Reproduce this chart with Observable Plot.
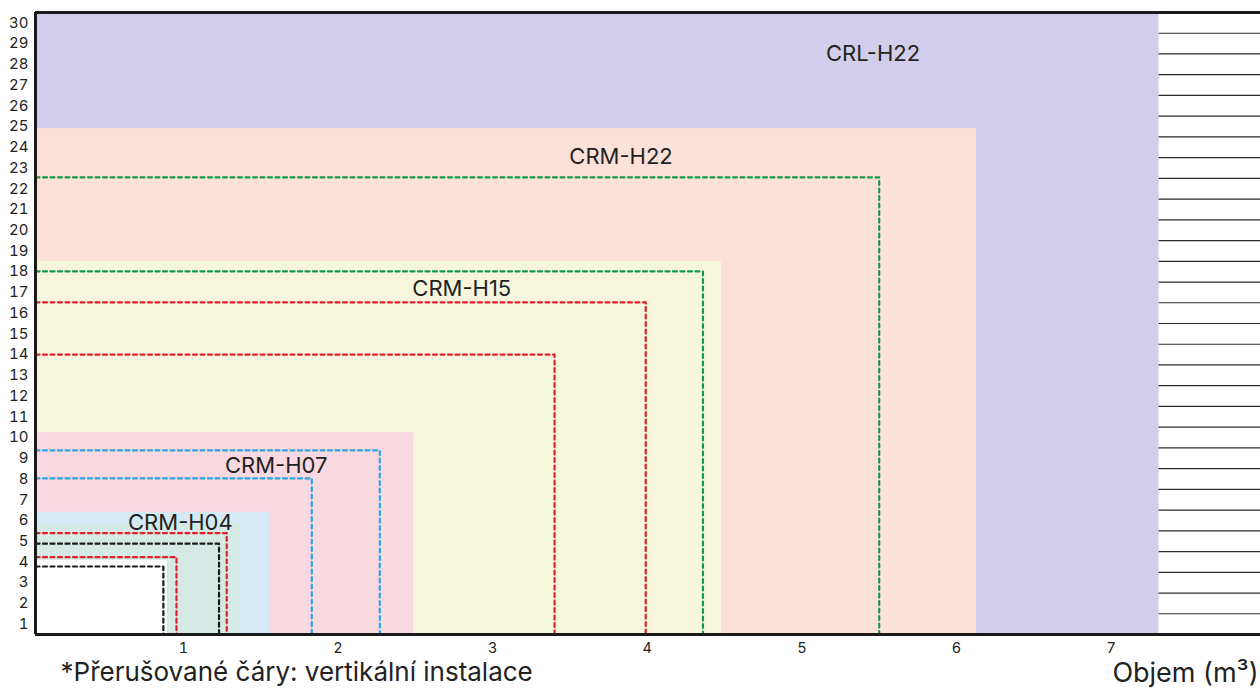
<!DOCTYPE html>
<html>
<head>
<meta charset="utf-8">
<script src="https://cdn.jsdelivr.net/npm/d3@7"></script>
<script src="https://cdn.jsdelivr.net/npm/@observablehq/plot@0.6"></script>
<style>
  html, body { margin: 0; padding: 0; background: #fff; }
  #chart svg { display: block; }
</style>
</head>
<body>
<div id="chart"></div>
<script>
// ---- data (volume m³ on x, pressure/tick index on y) ----
const areaModels = ["CRL-H22", "CRM-H22", "CRM-H15", "CRM-H07", "CRM-H04", "CRM-H04 min", "mimo rozsah"];
const areaMaxVolume = [7.31, 6.13, 4.48, 2.49, 1.56, 1.37, 0.895];
const areaMaxY = [30.5, 24.9, 18.5, 10.24, 6.39, 5.84, 4.07];

const dashSeries = ["zelená", "zelená", "červená", "červená", "modrá", "modrá", "červená", "černá", "červená", "černá"];
const dashVolume = [5.50, 4.36, 3.99, 3.40, 2.27, 1.83, 1.28, 1.23, 0.955, 0.87];
const dashY = [22.55, 18.01, 16.52, 14.0, 9.38, 8.03, 5.39, 4.88, 4.23, 3.78];

const labelNames = ["CRL-H22", "CRM-H22", "CRM-H15", "CRM-H07", "CRM-H04"];
const labelX = [5.46, 3.83, 2.80, 1.60, 0.98];
const labelY = [28.48, 23.51, 17.19, 8.65, 5.90];

const xTicks = [1, 2, 3, 4, 5, 6, 7];
const yTicks = [1, 2, 3, 4, 5, 6, 7, 8, 9, 10, 11, 12, 13, 14, 15, 16, 17, 18, 19, 20, 21, 22, 23, 24, 25, 26, 27, 28, 29, 30];
const sideLines = [1.5, 2.5, 3.5, 4.5, 5.5, 6.5, 7.5, 8.5, 9.5, 10.5, 11.5, 12.5, 13.5, 14.5, 15.5, 16.5, 17.5, 18.5, 19.5, 20.5, 21.5, 22.5, 23.5, 24.5, 25.5, 26.5, 27.5, 28.5, 29.5];

const captionText = "*Přerušované čáry: vertikální instalace";
const axisLabelText = "Objem (m³)";

// ---- styles ----
const xDomain = [0.043, 7.966];
const yDomain = [0.5, 30.5];
const areaColors = ["#d1cdea", "#fbe1d7", "#f6f6dc", "#f9d9e1", "#d5e9f7", "#d5eae5", "#ffffff"];
const dashColorDomain = ["zelená", "červená", "modrá", "černá"];
const dashColorRange = ["#13994a", "#e31e2d", "#2ea3e0", "#1a1a1a"];

const areas = areaModels.map((m, i) => ({model: m, x1: xDomain[0], x2: areaMaxVolume[i], y1: yDomain[0], y2: areaMaxY[i], color: areaColors[i]}));
const dashPts = [];
dashVolume.forEach((v, i) => {
  dashPts.push({id: i, s: dashSeries[i], x: xDomain[0], y: dashY[i]});
  dashPts.push({id: i, s: dashSeries[i], x: v, y: dashY[i]});
  dashPts.push({id: i, s: dashSeries[i], x: v, y: yDomain[0]});
});
const labels = labelNames.map((n, i) => ({name: n, x: labelX[i], y: labelY[i]}));

const chart = Plot.plot({
  width: 1260,
  height: 689,
  marginLeft: 35,
  marginRight: 0,
  marginTop: 12,
  marginBottom: 55,
  style: {fontFamily: "Inter, 'Noto Sans', sans-serif", color: "#222", background: "#fff"},
  x: {domain: xDomain},
  y: {domain: yDomain},
  color: {domain: dashColorDomain, range: dashColorRange},
  marks: [
    Plot.rect(areas, {x1: "x1", x2: "x2", y1: "y1", y2: "y2", fill: d => d.color}),
    Plot.ruleY(sideLines, {x1: areaMaxVolume[0], x2: xDomain[1], stroke: "#2a2a2a", strokeWidth: 1.2}),
    Plot.line(dashPts, {x: "x", y: "y", z: "id", stroke: "s", strokeWidth: 2.2, strokeDasharray: "4,3.5", curve: "linear"}),
    Plot.text(labels, {x: "x", y: "y", text: "name", fontSize: 22, fill: "#222"}),
    Plot.axisX({ticks: xTicks, tickSize: 0, tickPadding: 8, fontSize: 14.5, label: null}),
    Plot.axisY({ticks: yTicks, tickSize: 0, tickPadding: 7, fontSize: 15, label: null}),
    Plot.ruleX([xDomain[0]], {stroke: "#1a1a1a", strokeWidth: 3}),
    Plot.ruleY([yDomain[0], yDomain[1]], {stroke: "#1a1a1a", strokeWidth: 3}),
    Plot.text([captionText], {frameAnchor: "bottom-left", dx: 25, dy: 46, fontSize: 26, textAnchor: "start", fill: "#222"}),
    Plot.text([axisLabelText], {frameAnchor: "bottom-right", dx: -2, dy: 47, fontSize: 27, textAnchor: "end", fill: "#222"})
  ]
});
document.getElementById("chart").appendChild(chart);
</script>
</body>
</html>
